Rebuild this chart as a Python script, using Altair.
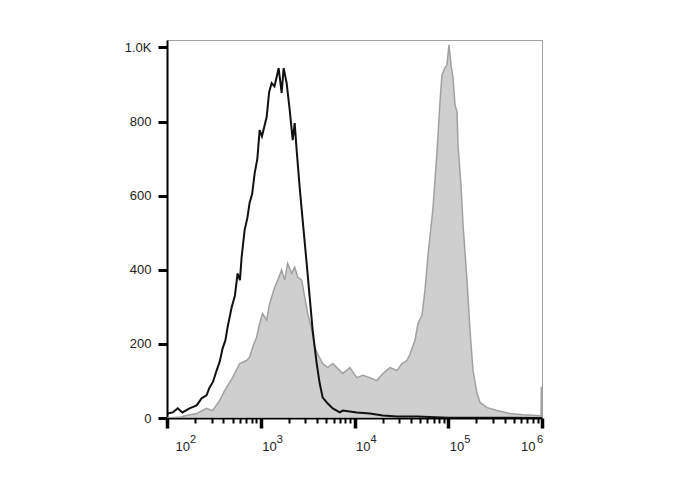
import altair as alt
import pandas as pd

# Control (unstained) histogram: black outline
black_x = [101, 115, 130, 146, 174, 207, 234, 264, 284, 310, 338, 365, 392, 420, 443, 489,
           530, 566, 600, 625, 673, 720, 760, 810, 861, 920, 973, 1030, 1156, 1230, 1306,
           1400, 1479, 1552, 1671, 1754, 1888, 2037, 2193, 2301, 2415,
           2600, 2799, 3090, 3327, 3581, 3954, 4256, 4581, 5188, 5861, 6966, 7499, 10593,
           14588, 20090, 28379, 46452, 100000, 1000000]
black_y = [12, 15, 26, 15, 26, 34, 53, 61, 82, 98, 128, 152, 188, 210, 245, 298,
           330, 390, 372, 434, 507, 540, 580, 605, 660, 700, 777, 760, 812, 880, 904,
           895, 920, 944, 877, 944, 904, 831, 750, 796, 723,
           623, 534, 417, 326, 236, 147, 93, 55, 39, 26, 15, 20, 15,
           12, 7, 4, 4, 1, 0]

# Stained histogram: grey filled
grey_x = [100, 141, 161, 207, 264, 306, 364, 412, 501, 596, 706, 760, 830, 904, 973, 1047, 1156,
          1245, 1409, 1517, 1671, 1803, 1936, 2138, 2301, 2477, 2735, 2944, 3170, 3499,
          3767, 4055, 4581, 5188, 5861, 6471, 7499, 8913, 10593, 12274, 14588, 17258,
          20090, 23878, 28379, 32063, 36224, 38994, 44157, 47534, 52481, 56494, 60814,
          68707, 75858, 81658, 85704, 92257, 96828, 101859, 106905, 112460, 118032,
          124165, 127057, 136773, 143880, 158489, 170608, 183654, 202768, 218273,
          259418, 331131, 456037, 628058, 887156, 977237, 984011, 1000000]
grey_y = [0, 3, 7, 12, 26, 20, 47, 74, 109, 147, 155, 164, 195, 218, 255, 282, 264,
          309, 353, 372, 399, 372, 417, 390, 407, 380, 372, 326, 282, 237,
          191, 172, 147, 136, 147, 136, 120, 136, 109, 115, 109, 101,
          120, 136, 128, 147, 155, 172, 209, 255, 277, 345, 440,
          566, 718, 853, 926, 945, 953, 1007, 953, 918, 845,
          826, 736, 628, 520, 372, 237, 128, 66, 42,
          28, 20, 12, 9, 7, 5, 82, 82]

x_ticks = [100, 200, 300, 400, 500, 600, 700, 800, 900,
           1000, 2000, 3000, 4000, 5000, 6000, 7000, 8000, 9000,
           10000, 20000, 30000, 40000, 50000, 60000, 70000, 80000, 90000,
           100000, 200000, 300000, 400000, 500000, 600000, 700000, 800000, 900000,
           1000000]
y_ticks = list(range(0, 1001, 50))

decades = [100, 1000, 10000, 100000, 1000000]
exponents = ["2", "3", "4", "5", "6"]

black_df = pd.DataFrame({"x": black_x, "y": black_y})
grey_df = pd.DataFrame({"x": grey_x, "y": grey_y})
exp_df = pd.DataFrame({"x": decades, "e": exponents})

major_x = "indexof([100,1000,10000,100000,1000000], datum.value) >= 0"
major_y = "datum.value % 200 === 0"

x_label_expr = "indexof([100,1000,10000,100000,1000000], datum.value) >= 0 ? '10' : ''"
y_label_expr = "datum.value == 1000 ? '1.0K' : (datum.value % 200 === 0 ? '' + datum.value : '')"

x_scale = alt.Scale(type="log", domain=[100, 1000000], nice=False)
y_scale = alt.Scale(domain=[0, 1020], nice=False)

x_axis = alt.Axis(
    title=None, values=x_ticks, labelExpr=x_label_expr, grid=False,
    domainColor="#000000", domainWidth=2, tickColor="#000000",
    tickWidth={"condition": {"test": major_x, "value": 3.5}, "value": 2},
    tickSize={"condition": {"test": major_x, "value": 10}, "value": 5},
    labelAlign={"condition": {"test": "datum.value == 1000000", "value": "right"}, "value": "left"},
    labelOffset={"condition": [{"test": "datum.value == 100", "value": 8},
                               {"test": "datum.value == 1000000", "value": -7}], "value": 1},
    labelFlush=False, labelBound=False, labelOverlap=False,
    labelFont="Liberation Sans", labelFontSize=13, labelColor="#222222", labelPadding=12,
)
y_axis = alt.Axis(
    title=None, values=y_ticks, labelExpr=y_label_expr, grid=False,
    domainColor="#000000", domainWidth=2, tickColor="#000000",
    tickWidth={"condition": {"test": major_y, "value": 3}, "value": 1.5},
    tickSize={"condition": {"test": major_y, "value": 9}, "value": 4},
    labelFont="Liberation Sans", labelFontSize=13, labelColor="#222222", labelPadding=7,
    labelOverlap=False, labelFlush=False,
)

grey = alt.Chart(grey_df).mark_area(
    fill="#cfcfcf", stroke="#a0a0a0", strokeWidth=1.5, interpolate="linear", clip=True
).encode(
    x=alt.X("x:Q", scale=x_scale, axis=x_axis),
    y=alt.Y("y:Q", scale=y_scale, axis=y_axis, stack=None),
)

black = alt.Chart(black_df).mark_line(
    color="#111111", strokeWidth=2, interpolate="linear", clip=True
).encode(
    x=alt.X("x:Q", scale=x_scale),
    y=alt.Y("y:Q", scale=y_scale),
)

def exp_layer(sel, dx):
    return alt.Chart(exp_df).transform_filter(sel).mark_text(
        font="Liberation Sans", fontSize=11, color="#222222",
        align="left", baseline="alphabetic", dx=dx
    ).encode(
        x=alt.X("x:Q", scale=x_scale),
        y=alt.value(403),
        text="e:N",
    )

exp_first = exp_layer("datum.x == 100", 23)
exp_mid = exp_layer("datum.x > 100 && datum.x < 1000000", 16)
exp_last = exp_layer("datum.x == 1000000", -5)

chart = alt.layer(grey, black, exp_first, exp_mid, exp_last).properties(
    width=375, height=378,
    autosize=alt.AutoSizeParams(type="none"),
    padding={"left": 159, "top": 32, "right": 138, "bottom": 64},
    background="#ffffff",
).configure_view(stroke="#a0a0a0", strokeWidth=1)

chart.save("out.html", embed_options={"renderer": "svg", "actions": False})
